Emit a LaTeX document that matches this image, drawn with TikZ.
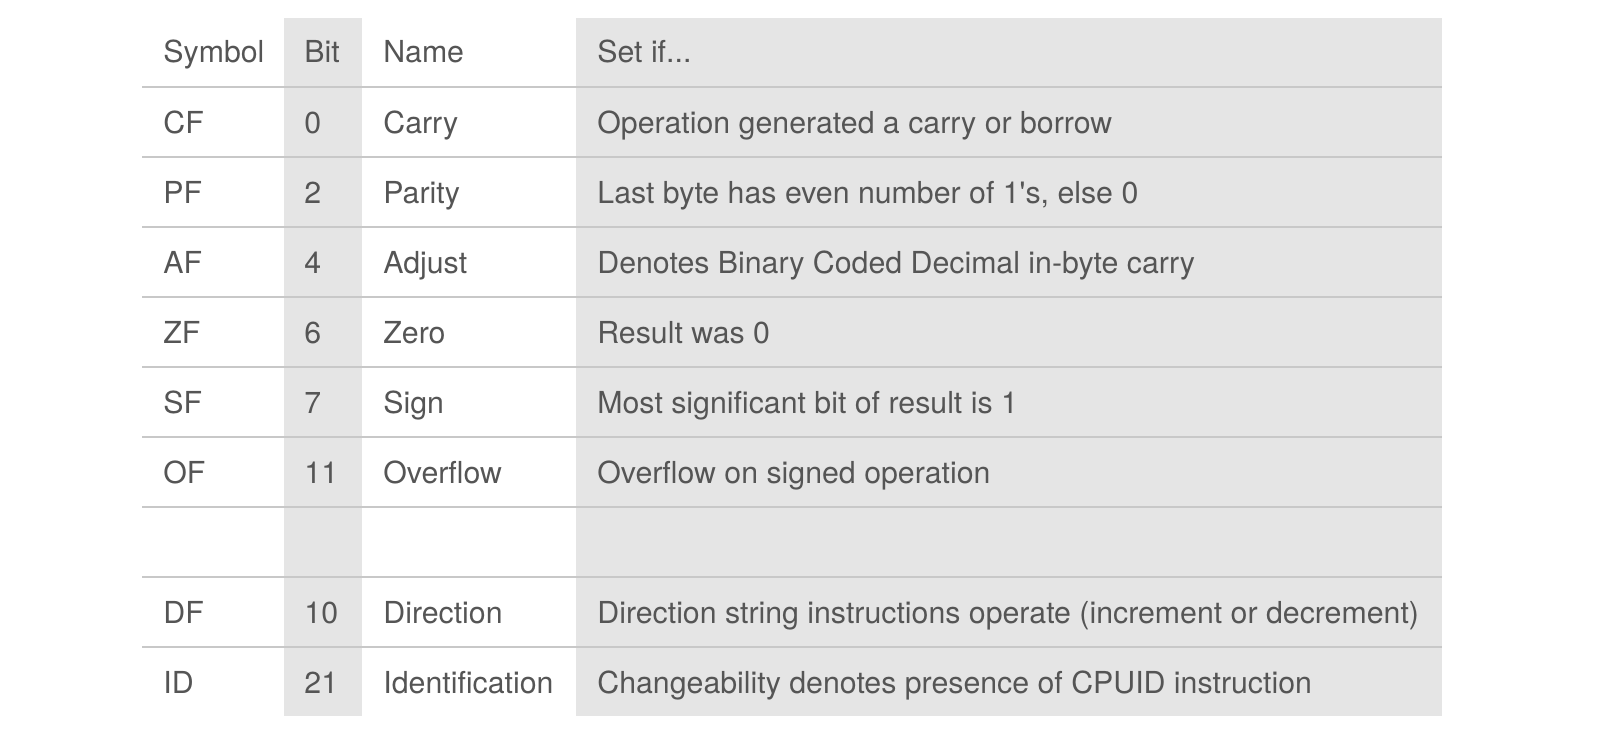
\documentclass[tikz,border=0pt]{standalone}
\usepackage{fontspec}
\setmainfont[Ligatures=TeXOff]{TeX Gyre Heros}
\definecolor{txt}{HTML}{555555}
\definecolor{cellgray}{HTML}{E5E5E5}
\definecolor{rule}{HTML}{C8C8C8}
\begin{document}
\begin{tikzpicture}[x=0.5pt,y=-0.5pt,
  cell/.style={anchor=base west,inner sep=0pt,text=txt,font=\fontsize{15.15}{18}\selectfont},
  hline/.style={draw=rule,line width=1pt}]
\useasboundingbox (0,0) rectangle (1598,736);
\fill[white] (0,0) rectangle (1598,736);
% shaded columns
\fill[cellgray] (284,18) rectangle (362,716);
\fill[cellgray] (576,18) rectangle (1442,716);
% horizontal rules
\foreach \k in {0,...,8}{
  \draw[hline] (142,{87+70*\k}) -- (1442,{87+70*\k});
}
% header
\node[cell] (hsym) at (163,62) {Symbol};
\node[cell] (hbit) at (304,62) {Bit};
\node[cell] (hname) at (383,62) {Name};
\node[cell] (hset) at (597,62) {Set if...};
% rows
\foreach \i/\s/\b/\n/\d in {
  1/CF/0/Carry/Operation generated a carry or borrow,
  2/PF/2/Parity/Last byte has even number of 1\char"0027 s{,} else 0,
  3/AF/4/Adjust/Denotes Binary Coded Decimal in-byte carry,
  4/ZF/6/Zero/Result was 0,
  5/SF/7/Sign/Most significant bit of result is 1,
  6/OF/11/Overflow/Overflow on signed operation,
  8/DF/10/Direction/Direction string instructions operate (increment or decrement),
  9/ID/21/Identification/Changeability denotes presence of CPUID instruction}{
  \node[cell] (sym\i) at (163,{133+70*(\i-1)}) {\s};
  \node[cell] (bit\i) at (304,{133+70*(\i-1)}) {\b};
  \node[cell] (name\i) at (383,{133+70*(\i-1)}) {\n};
  \node[cell] (desc\i) at (597,{133+70*(\i-1)}) {\d};
}
\end{tikzpicture}
\end{document}
